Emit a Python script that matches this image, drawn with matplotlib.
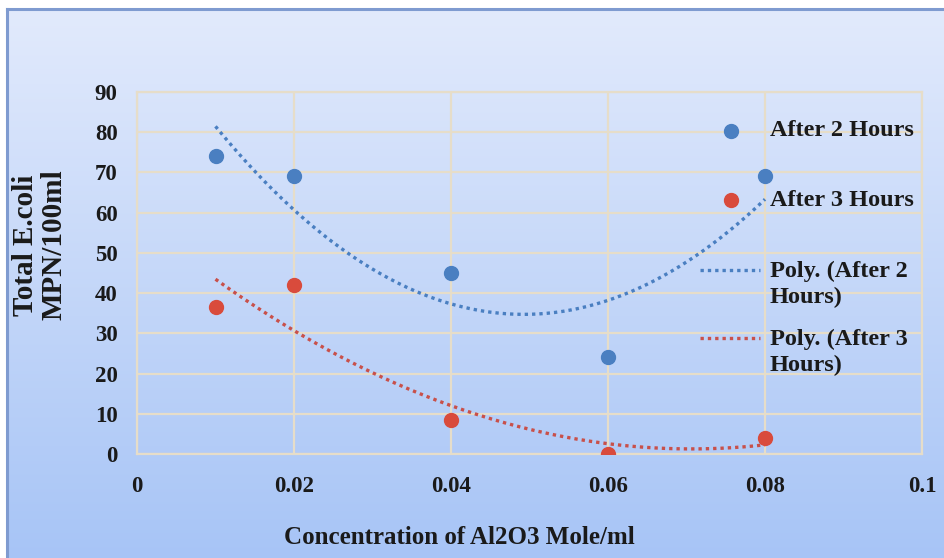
import matplotlib
matplotlib.use("Agg")
import matplotlib.pyplot as plt
import numpy as np
from matplotlib.lines import Line2D

# --- data ---
conc = [0.01, 0.02, 0.04, 0.06, 0.08]
after_2h = [74, 69, 45, 24, 69]
after_3h = [36.5, 42, 8.5, 0, 4]

x_ticks = [0, 0.02, 0.04, 0.06, 0.08, 0.1]
x_tick_labels = ["0", "0.02", "0.04", "0.06", "0.08", "0.1"]
y_ticks = [0, 10, 20, 30, 40, 50, 60, 70, 80, 90]

BLUE = "#4a7fc1"
RED = "#d94b3c"
RED_LINE = "#c8504a"
GRID = "#e6ddc9"
INK = "#1a1a1a"
FONT = "Liberation Serif"
DOTS = (0, (1, 1.2))

W, H = 944, 558
fig = plt.figure(figsize=(W / 100, H / 100), dpi=100)


def fx(px):
    return px / W


def fy(py):
    return 1 - py / H


# background gradient + frame
bg = fig.add_axes([0, 0, 1, 1], zorder=-10)
bg.set_xlim(0, 1)
bg.set_ylim(0, 1)
bg.axis("off")
top = np.array([0.886, 0.918, 0.988])
bot = np.array([0.655, 0.770, 0.965])
t = np.linspace(0, 1, 256)[:, None]
grad = (bot * (1 - t) + top * t)[:, None, :]
bg.imshow(grad, extent=[fx(7), 1, 0, fy(9)], origin="lower", aspect="auto", zorder=0)
bg.plot([fx(7), fx(7)], [0, fy(9)], color="#7f9bd0", lw=2.2, zorder=1)
bg.plot([fx(7), 1], [fy(9), fy(9)], color="#7f9bd0", lw=2.2, zorder=1)

ax = fig.add_axes([fx(137), fy(454), (922 - 137) / W, (454 - 92) / H])
ax.set_facecolor("none")

# polynomial (order 2) trendlines, over the data range like Excel
xs = np.linspace(min(conc), max(conc), 200)
p2 = np.polyfit(conc, after_2h, 2)
p3 = np.polyfit(conc, after_3h, 2)

ax.plot(conc, after_2h, "o", color=BLUE, ms=10, zorder=4)
ax.plot(conc, after_3h, "o", color=RED, ms=10, zorder=4)
ax.plot(xs, np.polyval(p2, xs), linestyle=DOTS, color=BLUE, lw=2.4, zorder=3)
ax.plot(xs, np.polyval(p3, xs), linestyle=DOTS, color=RED_LINE, lw=2.4, zorder=3)

ax.set_xlim(0, 0.1)
ax.set_ylim(0, 90)
ax.set_xticks(x_ticks)
ax.set_xticklabels(x_tick_labels)
ax.set_yticks(y_ticks)
ax.grid(True, color=GRID, lw=1.6, zorder=0)
ax.set_axisbelow(True)
for s in ax.spines.values():
    s.set_color(GRID)
    s.set_linewidth(1.6)
ax.tick_params(length=0)
ax.tick_params(axis="x", pad=16)
ax.tick_params(axis="y", pad=14)
for lab in ax.get_xticklabels() + ax.get_yticklabels():
    lab.set_fontfamily(FONT)
    lab.set_fontweight("bold")
    lab.set_fontsize(16.5)
    lab.set_color(INK)

fig.text(fx(459), fy(537), "Concentration of Al2O3 Mole/ml", ha="center", va="center",
         family=FONT, weight="bold", fontsize=18, color=INK)
fig.text(fx(40), fy(245), "Total E.coli\nMPN/100ml", ha="center", va="center",
         rotation=90, family=FONT, weight="bold", fontsize=21, color=INK,
         linespacing=1.05)

# legend, laid out like the Excel one
leg_font = dict(family=FONT, weight="bold", fontsize=17.5, color=INK)
leg_rows = [131, 200, 284, 352]
leg_labels = ["After 2 Hours", "After 3 Hours", "Poly. (After 2\nHours)", "Poly. (After 3\nHours)"]
fig.add_artist(Line2D([fx(731)], [fy(leg_rows[0])], marker="o", ls="none", color=BLUE, ms=10,
                      transform=fig.transFigure))
fig.add_artist(Line2D([fx(731)], [fy(leg_rows[1])], marker="o", ls="none", color=RED, ms=10,
                      transform=fig.transFigure))
fig.add_artist(Line2D([fx(700), fx(760)], [fy(leg_rows[2] - 14)] * 2, ls=DOTS, color=BLUE,
                      lw=2.4, transform=fig.transFigure))
fig.add_artist(Line2D([fx(700), fx(760)], [fy(leg_rows[3] - 14)] * 2, ls=DOTS, color=RED_LINE,
                      lw=2.4, transform=fig.transFigure))
for row, lab in zip(leg_rows, leg_labels):
    fig.text(fx(770), fy(row), lab, ha="left", va="center", linespacing=1.3, **leg_font)

fig.savefig("out.png", dpi=100)
